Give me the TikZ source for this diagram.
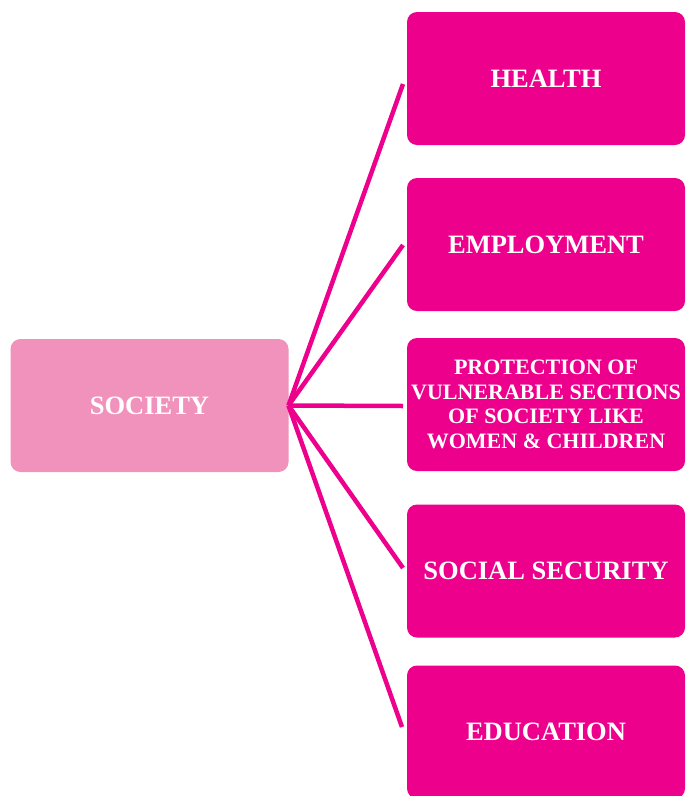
\documentclass[tikz,border=0pt]{standalone}
\usepackage{fontspec}
\setmainfont{Liberation Serif}
\definecolor{topicpink}{HTML}{EC008C}
\definecolor{rootpink}{HTML}{F092BB}
\begin{document}
\begin{tikzpicture}[x=1pt, y=-1pt, every node/.style={text=white, align=center, rounded corners=10pt, inner sep=0pt, outer sep=0pt},
    topicbox/.style={fill=topicpink, minimum width=278pt, minimum height=133pt, font=\bfseries\fontsize{26.5}{30}\selectfont},
    rootbox/.style={fill=rootpink, minimum width=278pt, minimum height=133pt, font=\bfseries\fontsize{26.5}{30}\selectfont},
    link/.style={draw=topicpink, line width=4.5pt}]
    \useasboundingbox (0,0) rectangle (687,796);
    % left box
    \node[rootbox] (society) at (149.5, 405.5) {SOCIETY};
    % right boxes
    \node[topicbox] (health) at (546, 78.5) {HEALTH};
    \node[topicbox] (employment) at (546, 244.5) {EMPLOYMENT};
    \node[topicbox, font=\bfseries\fontsize{22}{24.5}\selectfont] (protection) at (546, 404.5) {PROTECTION OF\\VULNERABLE SECTIONS\\OF SOCIETY LIKE\\WOMEN \& CHILDREN};
    \node[topicbox] (security) at (546, 571) {SOCIAL SECURITY};
    \node[topicbox] (education) at (546, 732) {EDUCATION};
    % line ends
    \coordinate (health end) at (403, 84);
    \coordinate (employment end) at (403, 245);
    \coordinate (protection end) at (403, 406);
    \coordinate (security end) at (403, 568);
    \coordinate (education end) at (402, 727);
    \foreach \n in {health, employment, protection, security, education}
        \draw[link] (society.east) -- (\n\space end);
\end{tikzpicture}
\end{document}
